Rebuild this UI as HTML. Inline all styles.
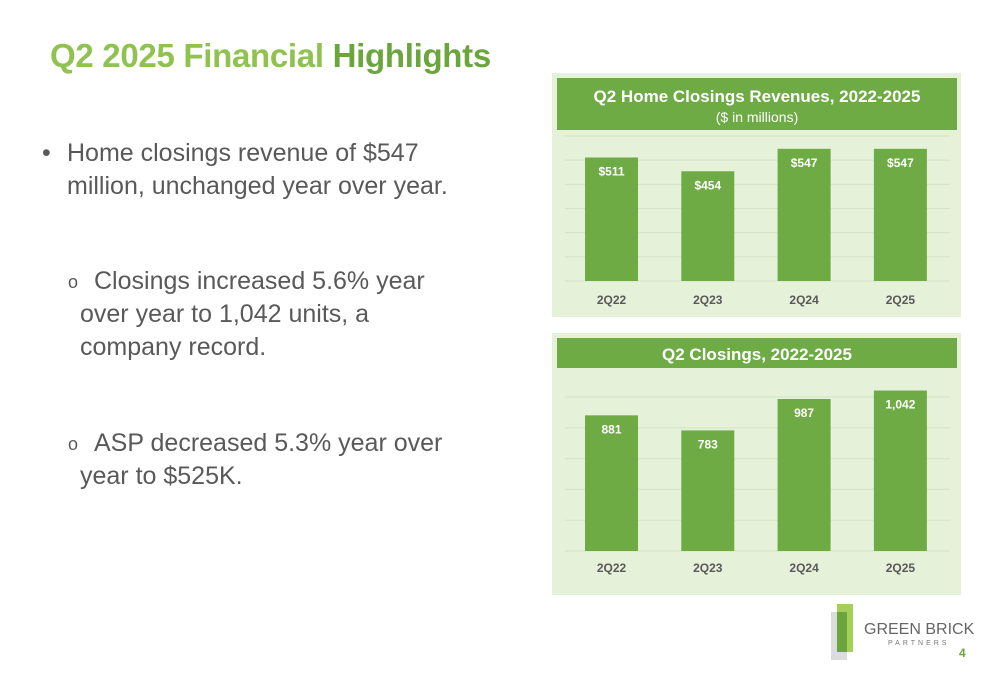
<!DOCTYPE html>
<html><head><meta charset="utf-8"><style>
body{margin:0;width:1000px;height:685px;background:#fff;position:relative;overflow:hidden;font-family:"Liberation Sans",sans-serif}
.t{position:absolute;color:#595959;font-size:25px;line-height:33px;white-space:nowrap}
</style></head><body>
<div style="position:absolute;left:50px;top:37px;font-size:33px;font-weight:bold;letter-spacing:-0.3px"><span style="color:#8fc24e">Q2 2025 Financial</span> <span style="color:#6aa63c">Highlights</span></div>
<div class="t" style="left:42px;top:137px">•</div>
<div class="t" style="left:67px;top:137px">Home closings revenue of $547<br>million, unchanged year over year.</div>
<div class="t" style="left:68px;top:266px;font-size:18px">o</div>
<div class="t" style="left:94px;top:265px">Closings increased 5.6% year</div>
<div class="t" style="left:80px;top:298px">over year to 1,042 units, a<br>company record.</div>
<div class="t" style="left:68px;top:428px;font-size:18px">o</div>
<div class="t" style="left:94px;top:427px">ASP decreased 5.3% year over</div>
<div class="t" style="left:80px;top:460px">year to $525K.</div>
<svg width="1000" height="685" style="position:absolute;left:0;top:0" id="svg">
<rect x="552" y="73" width="409" height="244" fill="#e5f1d9"/>
<rect x="557" y="78" width="400" height="52" fill="#6fab45"/>
<text x="757" y="102" text-anchor="middle" fill="#fff" font-size="17" font-weight="bold">Q2 Home Closings Revenues, 2022-2025</text>
<text x="757" y="122" text-anchor="middle" fill="#fff" font-size="14">($ in millions)</text>
<rect x="552" y="333" width="409" height="262" fill="#e5f1d9"/>
<rect x="557" y="338" width="400" height="30" fill="#6fab45"/>
<text x="757" y="360" text-anchor="middle" fill="#fff" font-size="17" font-weight="bold">Q2 Closings, 2022-2025</text>
<g>
<rect x="831" y="612" width="16" height="48" fill="#dcdcdc"/>
<rect x="837" y="604" width="16" height="48" fill="#a6cf5a"/>
<rect x="837" y="612" width="10" height="40" fill="#6aa63c"/>
<text x="864" y="634" fill="#666" font-size="16">GREEN BRICK</text>
<text x="888" y="645" fill="#777" font-size="7" letter-spacing="3">PARTNERS</text>
</g>
<text x="959" y="657" fill="#6aa63c" font-size="12" font-weight="bold">4</text>
</svg>
<script>
const categories=["2Q22","2Q23","2Q24","2Q25"];
const revenueValues=[511,454,547,547];
const revenueLabels=["$511","$454","$547","$547"];
const revenueTicks=[0,100,200,300,400,500,600];
const closingsValues=[881,783,987,1042];
const closingsLabels=["881","783","987","1,042"];
const closingsTicks=[0,200,400,600,800,1000];
const NS="http://www.w3.org/2000/svg";
const svg=document.getElementById('svg');
function mk(tag,attrs){const e=document.createElementNS(NS,tag);for(const k in attrs)e.setAttribute(k,attrs[k]);svg.appendChild(e);return e;}
function chart(prefix,vals,labels,ticks,base,top,max,catY){
  const y=v=>base-(v/max)*(base-top);
  const x=i=>585+i*96.3;
  ticks.forEach(t=>{const l=mk('line',{x1:565,x2:950,y1:y(t),y2:y(t),stroke:'#d4e3c6','stroke-width':1});
    
    });
  vals.forEach((v,i)=>{
    const r=mk('rect',{x:x(i),y:y(v),width:53,height:base-y(v),fill:'#6fab45'});
    
    
    const t=mk('text',{x:x(i)+26.5,y:y(v)+18,'text-anchor':'middle',fill:'#fff','font-size':12,'font-weight':'bold'});
    t.textContent=labels[i];
    
    
    const c=mk('text',{x:x(i)+26.5,y:catY,'text-anchor':'middle',fill:'#595959','font-size':12,'font-weight':'bold'});
    c.textContent=categories[i];
    
    
  });
}
chart('revenue',revenueValues,revenueLabels,revenueTicks,281,136,600,304);
chart('closings',closingsValues,closingsLabels,closingsTicks,551,397,1000,572);
</script>
</body></html>
